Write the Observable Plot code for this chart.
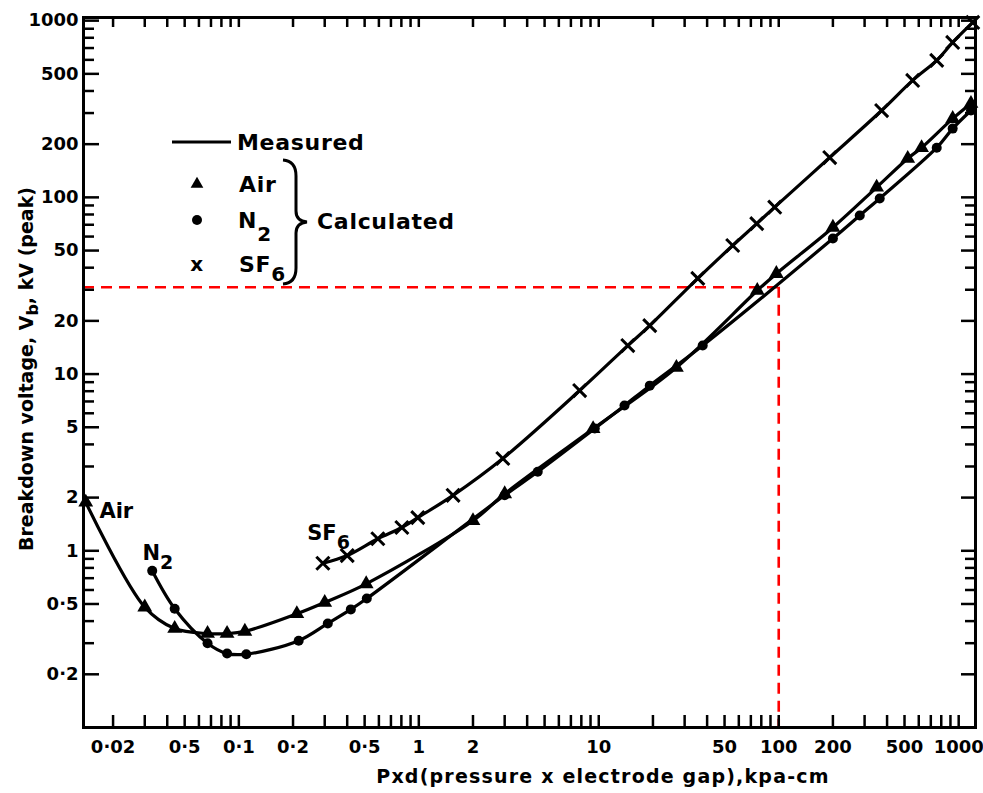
<!DOCTYPE html>
<html><head><meta charset="utf-8">
<script src="https://cdn.jsdelivr.net/npm/d3@7"></script>
<script src="https://cdn.jsdelivr.net/npm/@observablehq/plot@0.6"></script>
<style>body{margin:0;background:#fff} svg{display:block}</style>
</head><body><div id="chart"></div>
<script>
// ---- data ----
const airPd = [0.0141, 0.030, 0.044, 0.067, 0.086, 0.108, 0.21, 0.30, 0.51, 2.0, 3.0, 9.3, 27, 76, 97, 200, 350, 521, 622, 926, 1170];
const airVb = [1.88, 0.48, 0.363, 0.34, 0.34, 0.35, 0.44, 0.51, 0.65, 1.48, 2.1, 4.9, 10.9, 29.7, 37, 67.6, 114, 166, 191, 279, 340];
const n2Pd = [0.033, 0.044, 0.067, 0.086, 0.11, 0.215, 0.312, 0.419, 0.514, 3.0, 4.58, 9.5, 13.9, 19.2, 37.8, 200, 282, 364, 755, 926, 1170];
const n2Vb = [0.77, 0.47, 0.30, 0.262, 0.26, 0.31, 0.388, 0.466, 0.537, 2.06, 2.8, 4.92, 6.64, 8.6, 14.5, 58.5, 79, 98.6, 191, 245, 310];
const sf6Pd = [0.293, 0.40, 0.592, 0.805, 0.987, 1.55, 2.93, 7.83, 14.5, 19.2, 35.5, 55.5, 75.5, 95, 192, 373, 555, 755, 926, 1197];
const sf6Vb = [0.85, 0.94, 1.17, 1.355, 1.54, 2.06, 3.33, 8.07, 14.5, 18.8, 34.8, 53.4, 71, 88, 168, 310, 459, 596, 753, 977];

const refPd = 100, refVb = 31;

const xMajorTicks = [0.02, 0.05, 0.1, 0.2, 0.5, 1, 2, 10, 50, 100, 200, 500, 1000];
const xTickLabels = ["0·02", "0·5", "0·1", "0·2", "0·5", "1", "2", "10", "50", "100", "200", "500", "1000"];
const xMinorTicks = [0.02, 0.03, 0.04, 0.05, 0.06, 0.07, 0.08, 0.09, 0.1, 0.2, 0.3, 0.4, 0.5, 0.6, 0.7, 0.8, 0.9, 1,
  2, 3, 4, 5, 6, 7, 8, 9, 10, 20, 30, 40, 50, 60, 70, 80, 90, 100, 200, 300, 400, 500, 600, 700, 800, 900, 1000];
const yMajorTicks = [0.2, 0.5, 1, 2, 5, 10, 20, 50, 100, 200, 500, 1000];
const yTickLabels = ["0·2", "0·5", "1", "2", "5", "10", "20", "50", "100", "200", "500", "1000"];
const yMinorTicks = [0.3, 0.4, 0.6, 0.7, 0.8, 0.9, 3, 4, 6, 7, 8, 9, 30, 40, 60, 70, 80, 90, 300, 400, 600, 700, 800, 900];

const gasLabels = ["Air", "N", "SF"];
const gasLabelSubs = ["", "2", "6"];
const gasLabelPd = [0.0169, 0.0293, 0.2415];
const gasLabelVb = [1.52, 0.881, 1.14];

// ---- tables ----
const toRows = (pd, vb, gas) => pd.map((p, i) => ({pd: p, vb: vb[i], gas}));
const air = toRows(airPd, airVb, "Air");
const n2 = toRows(n2Pd, n2Vb, "N2");
const sf6 = toRows(sf6Pd, sf6Vb, "SF6");

const W = 983, H = 793, mL = 83, mR = 8, mT = 17, mB = 66;
const plotW = W - mL - mR, plotH = H - mT - mB;
const font = "DejaVu Sans";

const plot = Plot.plot({
  width: W, height: H,
  marginLeft: mL, marginRight: mR, marginTop: mT, marginBottom: mB,
  style: {fontFamily: font, fontWeight: "bold", background: "#fff", color: "#000", overflow: "visible"},
  x: {type: "log", domain: [0.0137, 1240], axis: null},
  y: {type: "log", domain: [0.1, 1042], axis: null},
  marks: [
    // reference dashed lines
    Plot.ruleY([refVb], {x1: 0.0137, x2: refPd, stroke: "#ff0000", strokeWidth: 2.6, strokeDasharray: "11,7"}),
    Plot.ruleX([refPd], {y1: refVb, y2: 0.1, stroke: "#ff0000", strokeWidth: 2.6, strokeDasharray: "11,7"}),
    // ticks (inside the frame, all four sides)
    Plot.tickX(xMinorTicks, {x: d => d, insetTop: plotH - 12, stroke: "#000", strokeWidth: 2.5}),
    Plot.tickX(xMinorTicks, {x: d => d, insetBottom: plotH - 10, stroke: "#000", strokeWidth: 2.5}),
    Plot.tickY(yMajorTicks, {y: d => d, insetRight: plotW - 16, stroke: "#000", strokeWidth: 2.5}),
    Plot.tickY(yMinorTicks, {y: d => d, insetRight: plotW - 11, stroke: "#000", strokeWidth: 2.5}),
    Plot.tickY(yMajorTicks, {y: d => d, insetLeft: plotW - 14, stroke: "#000", strokeWidth: 2.5}),
    Plot.tickY(yMinorTicks, {y: d => d, insetLeft: plotW - 10, stroke: "#000", strokeWidth: 2.5}),
    // tick labels
    Plot.text(xMajorTicks, {x: d => d, text: (d, i) => xTickLabels[i], frameAnchor: "bottom", lineAnchor: "top", dy: 13,
      fontSize: 18, fontWeight: "bold", fill: "#000"}),
    Plot.text(yMajorTicks, {y: d => d, text: (d, i) => yTickLabels[i], frameAnchor: "left", textAnchor: "end", dx: -5,
      fontSize: 18, fontWeight: "bold", fill: "#000"}),
    // measured curves
    Plot.line(air, {x: "pd", y: "vb", curve: "catmull-rom", stroke: "#000", strokeWidth: 3.2}),
    Plot.line(n2, {x: "pd", y: "vb", curve: "catmull-rom", stroke: "#000", strokeWidth: 3.2}),
    Plot.line(sf6, {x: "pd", y: "vb", curve: "catmull-rom", stroke: "#000", strokeWidth: 3.2}),
    // calculated points
    Plot.dot(air, {x: "pd", y: "vb", symbol: "triangle", r: 5.5, fill: "#000"}),
    Plot.dot(n2, {x: "pd", y: "vb", symbol: "circle", r: 5, fill: "#000"}),
    Plot.dot(sf6, {x: "pd", y: "vb", symbol: "times", r: 6, stroke: "#000", strokeWidth: 3}),
    Plot.frame({stroke: "#000", strokeWidth: 3})
  ]
});
document.getElementById("chart").appendChild(plot);

const svg = d3.select(plot);
const xs = plot.scale("x"), ys = plot.scale("y");

// gas labels on the curves
const gl = svg.append("g").attr("font-family", font).attr("font-weight", "bold").attr("font-size", 21)
  .attr("text-anchor", "start").attr("fill", "#000");
gasLabels.forEach((name, i) => {
  const t = gl.append("text").attr("x", xs.apply(gasLabelPd[i])).attr("y", ys.apply(gasLabelVb[i]));
  t.append("tspan").text(name);
  if (gasLabelSubs[i]) t.append("tspan").attr("dy", 9).attr("font-size", 19).text(gasLabelSubs[i]);
});

// legend
const lg = svg.append("g").attr("font-family", font).attr("font-weight", "bold").attr("font-size", 22)
  .attr("text-anchor", "start").attr("letter-spacing", 0.7).attr("fill", "#000");
lg.append("line").attr("x1", 172).attr("x2", 231).attr("y1", 142).attr("y2", 142).attr("stroke", "#000").attr("stroke-width", 3);
lg.append("text").attr("x", 237).attr("y", 150).text("Measured");
lg.append("path").attr("transform", "translate(197,184)").attr("d", d3.symbol(d3.symbolTriangle, 70)()).attr("fill", "#000");
lg.append("text").attr("x", 239).attr("y", 192).text("Air");
lg.append("circle").attr("cx", 197).attr("cy", 220).attr("r", 5).attr("fill", "#000");
const tn = lg.append("text").attr("x", 238).attr("y", 228);
tn.append("tspan").text("N");
tn.append("tspan").attr("dy", 13).attr("font-size", 20).text("2");
lg.append("text").attr("x", 197).attr("y", 271).attr("text-anchor", "middle").attr("font-size", 20).text("x");
const ts = lg.append("text").attr("x", 239).attr("y", 272);
ts.append("tspan").text("SF");
ts.append("tspan").attr("dy", 9).attr("font-size", 20).text("6");
lg.append("path")
  .attr("d", "M283,160 Q296,161 296,176 L296,211 Q296,221 307,222 Q296,223 296,233 L296,268 Q296,283 283,284")
  .attr("fill", "none").attr("stroke", "#000").attr("stroke-width", 3);
lg.append("text").attr("x", 317).attr("y", 229).text("Calculated");

// axis titles
const yt = svg.append("text").attr("transform", "translate(33,369) rotate(-90)").attr("text-anchor", "middle")
  .attr("font-family", font).attr("font-weight", "bold").attr("font-size", 19).attr("fill", "#000");
yt.append("tspan").text("Breakdown voltage, V");
yt.append("tspan").attr("dy", 5).attr("font-size", 16).text("b");
yt.append("tspan").attr("dy", -5).text(", kV (peak)");

svg.append("text").attr("x", 603).attr("y", 783).attr("text-anchor", "middle")
  .attr("font-family", font).attr("font-weight", "bold").attr("font-size", 19).attr("letter-spacing", 1.2).attr("fill", "#000")
  .text("Pxd(pressure x electrode gap),kpa-cm");
</script>
</body></html>
